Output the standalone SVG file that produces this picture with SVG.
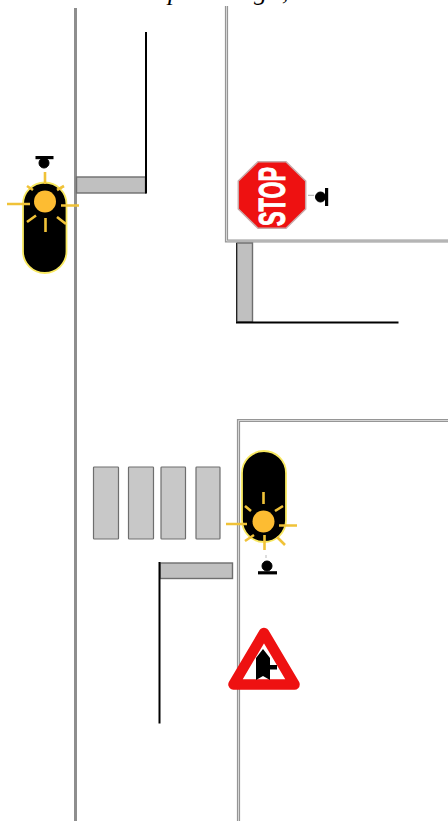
<svg xmlns="http://www.w3.org/2000/svg" width="448" height="821" viewBox="0 0 448 821">
<style>
.road{fill:none;stroke:#8e8e8e;stroke-width:3}
.kerb{fill:none;stroke:#969696;stroke-width:3.200}
.kerbin{fill:none;stroke:#e4e4e4;stroke-width:.8}
.stopline{stroke:#000;stroke-width:2;fill:none}
.band{fill:#c0c0c0;stroke:#6e6e6e;stroke-width:1.400}
.zebra{fill:#c8c8c8;stroke:#6e6e6e;stroke-width:1.200}
.pill{fill:#000;stroke:#f8e860;stroke-width:1.800}
.sun{fill:#fdbc32}
.ray{stroke:#f0c238;stroke-width:2.600;fill:none}
.lamp{fill:#000;stroke:#000}
.txt{font-family:"Liberation Serif",serif;font-style:italic;font-size:26px;fill:#000}
</style>
<rect width="448" height="821" fill="#fff"/>
<g id="caption"><text class="txt" x="168 254 282" y="0">pg,</text></g>
<g id="connectors">
<path class="road" d="M75.500 8V821"/>
<path class="kerb" d="M226.500 6V241H448"/>
<path class="kerbin" d="M226.500 6V241H448"/>
<path class="kerb" d="M238.500 821V420.500H448"/>
<path class="kerbin" d="M238.500 821V420.500H448"/>
</g>
<g id="stop-marking-top">
<rect class="band" x="76.500" y="177" width="69" height="16"/>
<path class="stopline" d="M146 32V193.500"/>
</g>
<g id="stop-marking-middle">
<rect class="band" x="237" y="243" width="15.500" height="79"/>
<path class="stopline" d="M236 322.500H398.500"/>
<path d="M236.500 243V322" stroke="#222" stroke-width="1" fill="none"/>
</g>
<g id="stop-marking-bottom">
<rect class="band" x="160" y="563" width="72.500" height="15.500"/>
<path class="stopline" d="M159.500 562V723.500"/>
</g>
<g id="crosswalk">
<rect class="zebra" x="93.500" y="467" width="25" height="72" rx=".8"/>
<rect class="zebra" x="128.500" y="467" width="25" height="72" rx=".8"/>
<rect class="zebra" x="161" y="467" width="24.500" height="72" rx=".8"/>
<rect class="zebra" x="196" y="467" width="24" height="72" rx=".8"/>
</g>
<g id="signal-left">
<rect x="35.500" y="156" width="18" height="3.200" fill="#000"/>
<circle class="lamp" cx="44" cy="163" r="5"/>
<rect class="pill" x="23" y="182.500" width="43.500" height="90.500" rx="21.700"/>
<circle class="sun" cx="45" cy="201.500" r="11"/>
<path class="ray" d="M45 172V184M7 204H30M61 205.500H79M45.500 218V232M27 222L36 215.500M57 217L66 224M27 186L33 190M64 186L57 190"/>
</g>
<g id="signal-right">
<rect class="pill" x="242" y="451" width="44" height="91" rx="22"/>
<circle class="sun" cx="263.500" cy="521.500" r="11"/>
<path class="ray" d="M263.500 492V504M226 524H247M279 525.500H297M245 506L251 511M283 506L275 511M264.500 535V550M245 541L254 535M277 537L285 545"/>
<path d="M266 555V558" stroke="#bbb" stroke-width="1"/>
<circle class="lamp" cx="267" cy="566" r="5"/>
<rect x="258" y="571.200" width="19" height="3.200" fill="#000"/>
</g>
<g id="stop-sign">
<polygon points="258,161.700 286,161.700 305.700,181 305.700,209 286,228.300 258,228.300 238.300,209 238.300,181" fill="#ee1111" stroke="#c9a9a9" stroke-width="1.500"/>
<text transform="translate(285 226) rotate(-90)" x="0" y="0" textLength="59" lengthAdjust="spacingAndGlyphs" style="font-family:'Liberation Sans',sans-serif;font-weight:700;font-size:36px;fill:#fff;stroke:#fff;stroke-width:1">STOP</text>
</g>
<g id="stop-lamp">
<path d="M308 195.300H314" stroke="#aaa" stroke-width="1"/>
<circle class="lamp" cx="320.500" cy="197" r="5"/>
<rect x="325" y="188" width="3.200" height="18" fill="#000"/>
</g>
<g id="priority-sign">
<path d="M264 633L233.500 684.500H294.500Z" fill="#fff" stroke="#ee1111" stroke-width="10.500" stroke-linejoin="round"/>
<path d="M263 649L270 658V665H277V669.500H270V680L263 676L256 680V658Z" fill="#000"/>
</g>
</svg>
